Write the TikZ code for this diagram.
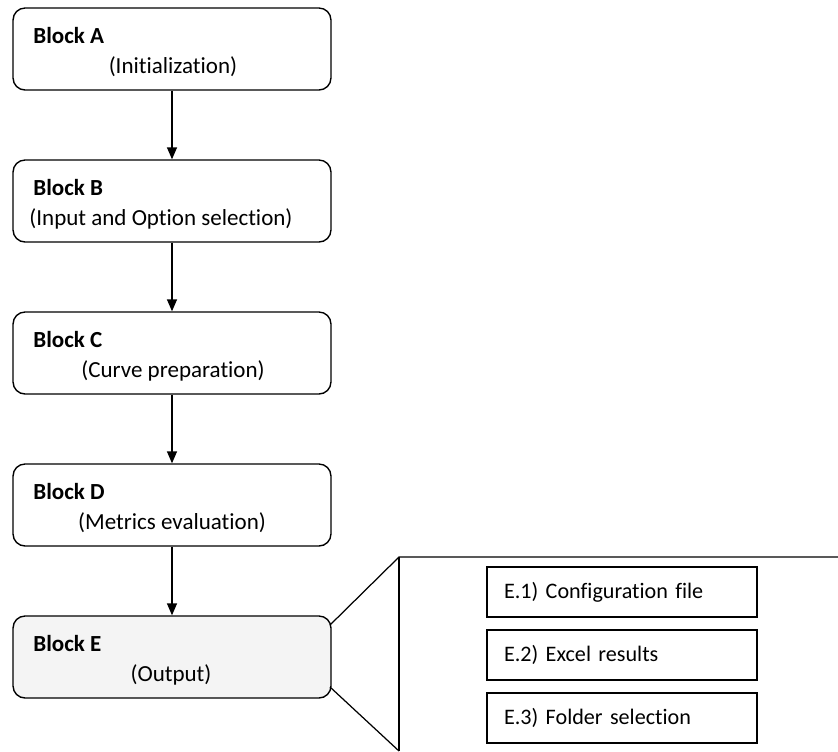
\documentclass[tikz,border=0pt]{standalone}
\usepackage{fontspec}
\setmainfont[Ligatures=NoCommon]{Carlito}
\usetikzlibrary{arrows.meta}
\newcommand{\blockfont}{\fontsize{13.1}{15.5}\selectfont}
\newcommand{\itemfont}{\fontsize{12.6}{15}\selectfont}
\tikzset{
    block/.style={draw, line width=0.8pt, rounded corners=0.24cm, minimum width=6.36cm, minimum height=1.64cm, fill=white},
    outblock/.style={block, fill=gray!9},
    title/.style={anchor=base west, inner sep=0pt, font=\blockfont\bfseries},
    subtitle/.style={anchor=base, inner sep=0pt},
    item/.style={draw, line width=0.7pt, minimum width=5.4cm, minimum height=1cm, text width=4.72cm, align=left, font=\itemfont},
    flow/.style={-{Triangle[length=0.24cm, width=0.2cm]}, line width=0.8pt},
    callout/.style={line width=0.7pt}
}

\begin{document}
\begin{tikzpicture}[x=0.02cm, y=-0.02cm, font=\blockfont]
    \useasboundingbox (0,0) rectangle (838,751);
    % Blocks
    \node[block] (A) at (172,49) {};
    \node[block] (B) at (172,201) {};
    \node[block] (C) at (172,353) {};
    \node[block] (D) at (172,505) {};
    \node[outblock] (E) at (172,657) {};
    \node[title] (At) at (33,43) {Block A};
    \node[subtitle] (As) at (173,73) {(Initialization)};
    \node[title] (Bt) at (33,195) {Block B};
    \node[subtitle] (Bs) at (161,225) {(Input and Option selection)};
    \node[title] (Ct) at (33,347) {Block C};
    \node[subtitle] (Cs) at (173,377) {(Curve preparation)};
    \node[title] (Dt) at (33,499) {Block D};
    \node[subtitle] (Ds) at (172,529) {(Metrics evaluation)};
    \node[title] (Et) at (33,651) {Block E};
    \node[subtitle] (Es) at (171,681) {(Output)};
    \foreach \a/\b in {A/B, B/C, C/D, D/E}
        \draw[flow] (\a) -- (\b);
    % Zoom of block E
    \coordinate (Eup) at (330,625);
    \coordinate (Edown) at (330,687);
    \coordinate (Zt) at (399,557);
    \coordinate (Zb) at (399,751);
    \coordinate (Zr) at (838,557);
    \draw[callout] (Eup) -- (Zt) -- (Zr);
    \draw[callout] (Zt) -- (Zb);
    \draw[callout] (Edown) -- (Zb);
    \node[item] (E1) at (622,592) {E.1) Configuration file};
    \node[item] (E2) at (622,655) {E.2) Excel results};
    \node[item] (E3) at (622,718) {E.3) Folder selection};
\end{tikzpicture}
\end{document}
